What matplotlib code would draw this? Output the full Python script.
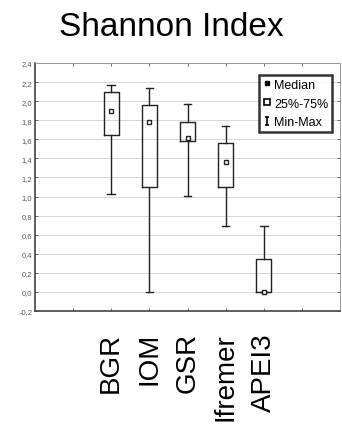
import numpy as np
import matplotlib
matplotlib.use('Agg')
import matplotlib.pyplot as plt
from matplotlib.lines import Line2D
from matplotlib.path import Path

plt.rcParams['font.family'] = ['Liberation Sans', 'DejaVu Sans']

# ── data ──────────────────────────────────────────────────────────────────────
sites   = ['BGR', 'IOM', 'GSR', 'Ifremer', 'APEI3']
mins    = [1.03, 0.00, 1.01, 0.69, 0.00]
q1s     = [1.64, 1.10, 1.58, 1.10, 0.00]
medians = [1.90, 1.78, 1.61, 1.36, 0.00]
q3s     = [2.10, 1.96, 1.78, 1.56, 0.34]
maxs    = [2.17, 2.14, 1.97, 1.74, 0.69]
yticks  = np.round(np.arange(-0.2, 2.41, 0.2), 1)

fig = plt.figure(figsize=(3.42, 4.35), dpi=100, facecolor='white')
ax = fig.add_axes([35 / 342, 1 - 312 / 435, 305 / 342, 248 / 435])

stats = []
for lab, lo, a, m, b, hi in zip(sites, mins, q1s, medians, q3s, maxs):
    stats.append(dict(label=lab, whislo=lo, q1=a, med=m, q3=b, whishi=hi, fliers=[]))

pos = np.arange(2, 2 + len(sites))
ax.bxp(stats, positions=pos, widths=0.4, showfliers=False,
       boxprops=dict(color='#222222', linewidth=1.0),
       whiskerprops=dict(color='#222222', linewidth=1.0),
       capprops=dict(color='#222222', linewidth=1.0),
       medianprops=dict(linewidth=0), capwidths=0.2)
ax.plot(pos, medians, 's', ms=3.5, mfc='white', mec='#222222', mew=1.0, zorder=5)

ax.set_xlim(0, 8)
ax.set_ylim(-0.2, 2.4)
ax.set_yticks(yticks)
ax.set_yticklabels([f'{v:.1f}'.replace('.', ',') for v in yticks],
                   fontsize=5.5, color='#555555')
ax.set_xticks(range(1, 8))
ax.set_xticklabels([])
ax.tick_params(axis='both', length=2, width=0.6, color='#555555',
               direction='in', pad=2, top=True, right=True)
ax.grid(axis='y', color='#d0d0d0', linewidth=0.6)
ax.set_axisbelow(True)
for s in ['left', 'bottom']:
    ax.spines[s].set_color('#444444')
    ax.spines[s].set_linewidth(1.2)
for s in ['top', 'right']:
    ax.spines[s].set_color('#999999')
    ax.spines[s].set_linewidth(0.7)

for p, lab in zip(pos, sites):
    ax.text(p, -0.42, lab, rotation=90, ha='center', va='top', fontsize=20,
            color='black', clip_on=False)

# I-shaped min-max symbol
ibar = Path([(-0.5, 1), (0.5, 1), (0, 1), (0, -1), (-0.5, -1), (0.5, -1)],
            [Path.MOVETO, Path.LINETO, Path.MOVETO, Path.LINETO,
             Path.MOVETO, Path.LINETO])
handles = [
    Line2D([], [], ls='none', marker='s', ms=2.5, mfc='black', mec='black'),
    Line2D([], [], ls='none', marker='s', ms=5, mfc='white', mec='black', mew=1.2),
    Line2D([], [], ls='none', marker=ibar, ms=6, mfc='none', mec='black', mew=1.2),
]
leg = ax.legend(handles, ['Median', '25%-75%', 'Min-Max'], loc='upper right',
                bbox_to_anchor=(0.974, 0.952), fontsize=9, frameon=True,
                fancybox=False, handlelength=0.6, handletextpad=0.3,
                borderpad=0.3, labelspacing=0.55, borderaxespad=0)
leg.get_frame().set_edgecolor('black')
leg.get_frame().set_linewidth(1.8)

fig.text(0.5, 0.937, 'Shannon Index', ha='center', va='center', fontsize=24)

plt.savefig('out.png', dpi=100, facecolor='white')
